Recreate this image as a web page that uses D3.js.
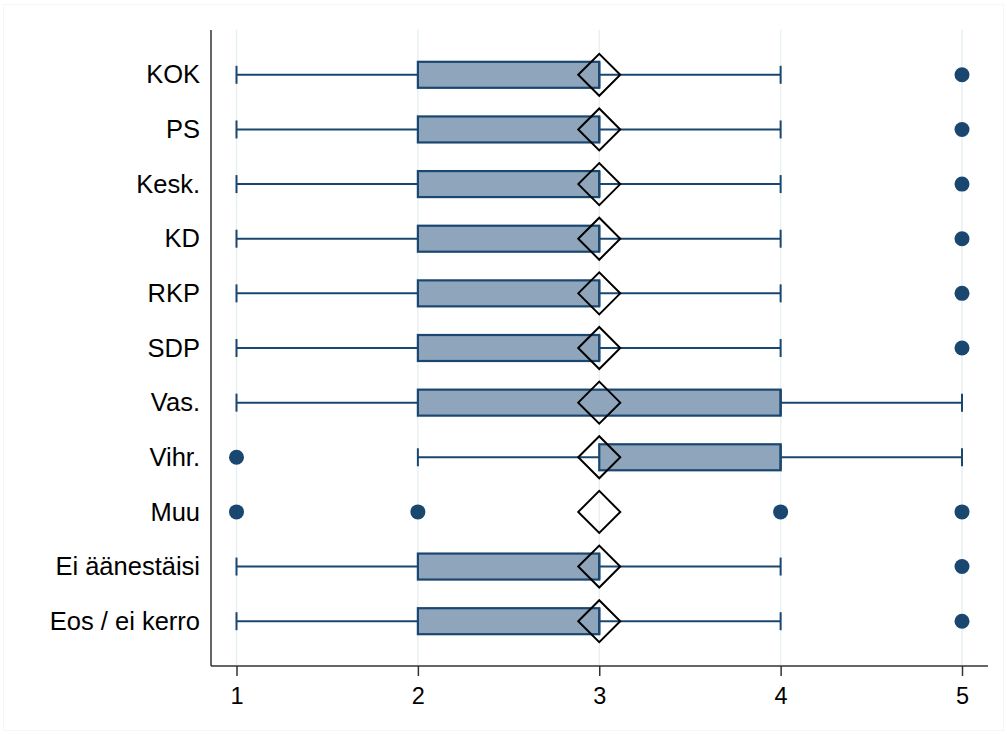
<!DOCTYPE html>
<html><head><meta charset="utf-8">
<script src="https://cdn.jsdelivr.net/npm/d3@7"></script>
<style>body{margin:0;background:#fff;} svg{display:block;}</style>
</head><body>
<svg id="chart" width="1007" height="734"></svg>
<script>
const categories = ["KOK","PS","Kesk.","KD","RKP","SDP","Vas.","Vihr.","Muu","Ei äänestäisi","Eos / ei kerro"];
// box statistics per category (null = no box drawn)
const whiskerLow  = [1,1,1,1,1,1,1,2,null,1,1];
const q1          = [2,2,2,2,2,2,2,3,null,2,2];
const median      = [3,3,3,3,3,3,4,4,null,3,3];
const q3          = [3,3,3,3,3,3,4,4,null,3,3];
const whiskerHigh = [4,4,4,4,4,4,5,5,null,4,4];
const means       = [3,3,3,3,3,3,3,3,3,3,3];
const outliers    = [[5],[5],[5],[5],[5],[5],[],[1],[1,2,4,5],[5],[5]];
const xTicks = [1,2,3,4,5];

(function(){
const svg = d3.select("#chart");
const navy = "#1a476f", boxFill = "#8ea5bb", grid = "#e9f1f3";

// faint outer frame
svg.append("rect").attr("x",3.5).attr("y",4.5).attr("width",1000).attr("height",726)
  .attr("fill","none").attr("stroke","#f4f6f7").attr("stroke-width",1);

const x = d3.scaleLinear().domain([1,5]).range([236.5,962]);
const y = d3.scalePoint().domain(categories).range([30,666]).padding(0.82);
const pL = 211, pR = 988, pT = 30, pB = 666;

svg.append("g").selectAll("line").data(xTicks).join("line")
  .attr("x1",d=>x(d)).attr("x2",d=>x(d)).attr("y1",pT).attr("y2",pB)
  .attr("stroke",grid).attr("stroke-width",1.5);

const boxH = 26, capH = 18, dm = 21;
const g = svg.append("g");

categories.forEach((c,i)=>{
  const cy = y(c);
  if (q1[i] !== null) {
    g.append("line").attr("x1",x(whiskerLow[i])).attr("x2",x(q1[i])).attr("y1",cy).attr("y2",cy)
      .attr("stroke",navy).attr("stroke-width",2);
    g.append("line").attr("x1",x(q3[i])).attr("x2",x(whiskerHigh[i])).attr("y1",cy).attr("y2",cy)
      .attr("stroke",navy).attr("stroke-width",2);
    [whiskerLow[i], whiskerHigh[i]].forEach(v=>{
      g.append("line").attr("x1",x(v)).attr("x2",x(v)).attr("y1",cy-capH/2).attr("y2",cy+capH/2)
        .attr("stroke",navy).attr("stroke-width",2);
    });
    g.append("rect").attr("x",x(q1[i])).attr("y",cy-boxH/2)
      .attr("width",x(q3[i])-x(q1[i])).attr("height",boxH)
      .attr("fill",boxFill).attr("stroke",navy).attr("stroke-width",2.2);
    g.append("line").attr("x1",x(median[i])).attr("x2",x(median[i])).attr("y1",cy-boxH/2).attr("y2",cy+boxH/2)
      .attr("stroke",navy).attr("stroke-width",2.2);
  }
  outliers[i].forEach(v=>{
    g.append("circle").attr("cx",x(v)).attr("cy",cy).attr("r",7.5).attr("fill",navy);
  });
  const mx = x(means[i]);
  g.append("path").attr("d",`M${mx-dm},${cy}L${mx},${cy-dm}L${mx+dm},${cy}L${mx},${cy+dm}Z`)
    .attr("fill","none").attr("stroke","#000").attr("stroke-width",2);
});

const xAxis = d3.axisBottom(x).tickValues(xTicks).tickSize(10).tickPadding(11).tickFormat(d3.format("d"));
const ax = svg.append("g").attr("transform",`translate(0,${pB})`).call(xAxis);
ax.select(".domain").remove();
ax.selectAll(".tick line").attr("stroke","#333").attr("stroke-width",1.5);
ax.selectAll("text").attr("font-family","Liberation Sans, Arial, sans-serif").attr("font-size",23.5).attr("fill","#000");
svg.append("line").attr("x1",pL).attr("x2",pR).attr("y1",pB).attr("y2",pB).attr("stroke","#333").attr("stroke-width",1.5);

const yAxis = d3.axisLeft(y).tickSize(0).tickPadding(11);
const ay = svg.append("g").attr("transform",`translate(${pL},0)`).call(yAxis);
ay.select(".domain").remove();
ay.selectAll("text").attr("font-family","Liberation Sans, Arial, sans-serif").attr("font-size",25.5).attr("fill","#000");
svg.append("line").attr("x1",pL).attr("x2",pL).attr("y1",pT).attr("y2",pB).attr("stroke","#333").attr("stroke-width",1.5);
})();
</script>
</body></html>
